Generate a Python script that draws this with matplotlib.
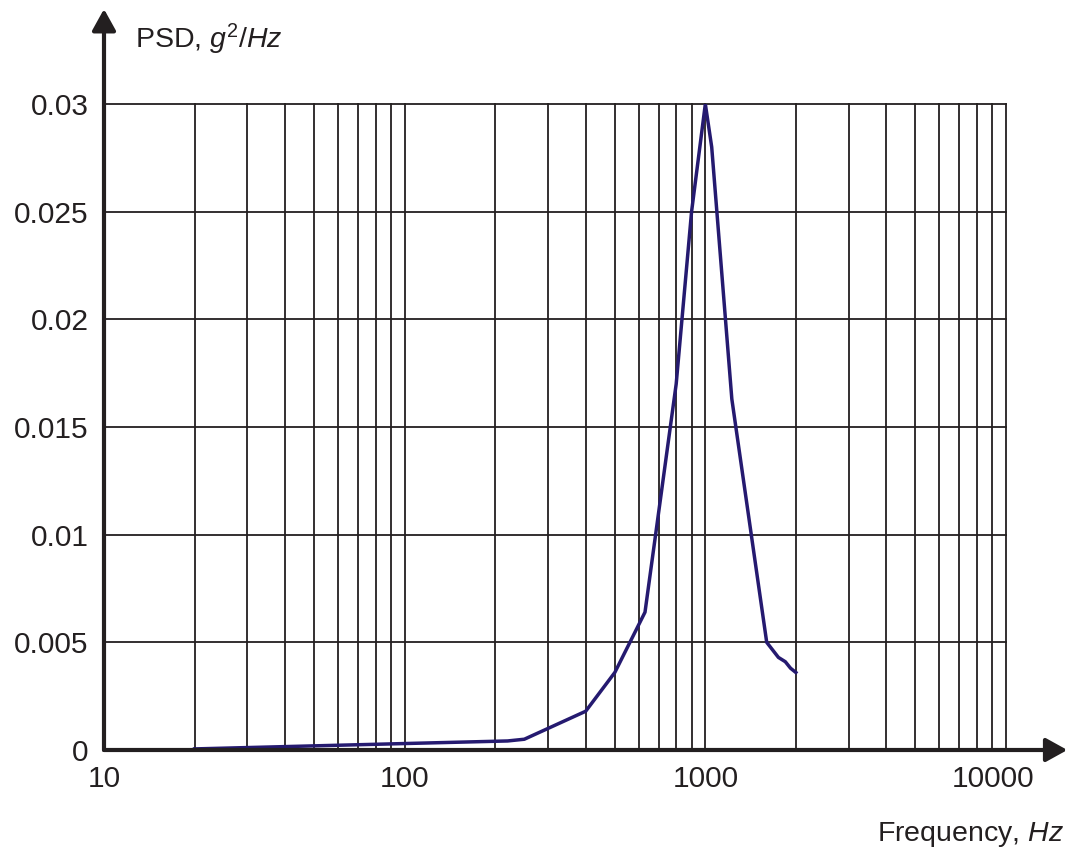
import numpy as np
import matplotlib
matplotlib.use('Agg')
from matplotlib import pyplot as plt
from matplotlib.transforms import ScaledTranslation

plt.rcParams['font.family'] = ['Liberation Sans', 'DejaVu Sans']
plt.rcParams['mathtext.fontset'] = 'custom'
plt.rcParams['mathtext.rm'] = 'Liberation Sans'
plt.rcParams['mathtext.it'] = 'Liberation Sans:italic'

# PSD curve
freq = [20, 100, 220, 250, 400, 500, 630, 800, 900, 1000, 1050, 1225, 1600, 1750, 1845, 1920, 2000]
psd = [0.00005, 0.0003, 0.00042, 0.0005, 0.0018, 0.0036, 0.0064, 0.017, 0.025, 0.03,
       0.028, 0.0163, 0.005, 0.0043, 0.0041, 0.0038, 0.0036]

x_ticks = [10, 100, 1000, 10000]
x_ticklabels = ['10', '100', '1000', '10000']
y_ticks = [0, 0.005, 0.01, 0.015, 0.02, 0.025, 0.03]
y_ticklabels = ['0', '0.005', '0.01', '0.015', '0.02', '0.025', '0.03']

ink = '#231f20'
curve = '#251a70'

fig = plt.figure(figsize=(10.73, 8.52), dpi=100)
ax = fig.add_axes([104 / 1073, 102 / 852, 902 / 1073, 646 / 852])

ax.set_xscale('log')
ax.set_xlim(10, 10000)
ax.set_ylim(0, 0.03)

# grid
minor = [m * d for d in [10, 100, 1000] for m in range(2, 10)]
for f in minor + [100, 1000, 10000]:
    ax.axvline(f, color=ink, lw=1.3, zorder=1, clip_on=False)
for v in y_ticks[1:]:
    ax.axhline(v, color=ink, lw=1.3, zorder=1, clip_on=False)

ax.plot(freq, psd, color=curve, lw=2.5, zorder=3, solid_joinstyle='round')

for s in ax.spines.values():
    s.set_visible(False)

ax.set_xticks(x_ticks)
ax.set_xticklabels(x_ticklabels)
ax.xaxis.set_minor_locator(plt.NullLocator())
ax.set_yticks(y_ticks)
ax.set_yticklabels(y_ticklabels)
ax.tick_params(axis='both', length=0, labelsize=21.5, labelcolor=ink)
ax.tick_params(axis='x', pad=11)
ax.tick_params(axis='y', pad=11)
lbl = ax.get_xticklabels()[-1]
lbl.set_transform(lbl.get_transform() + ScaledTranslation(-0.13, 0, fig.dpi_scale_trans))

# axes with arrows
arrow = dict(arrowstyle='-|>,head_length=0.65,head_width=0.36', mutation_scale=20,
             color=ink, lw=3, shrinkA=0, shrinkB=0)
ax.annotate('', xy=(1.068, 0), xytext=(0, 0), xycoords='axes fraction',
            arrowprops=arrow, zorder=5, annotation_clip=False)
ax.annotate('', xy=(0, 1.147), xytext=(0, 0), xycoords='axes fraction',
            arrowprops=arrow, zorder=5, annotation_clip=False)

fig.text(135 / 1073, 1 - 48 / 852, r'PSD, $g^2/Hz$', fontsize=20.5, color=ink,
         ha='left', va='baseline')
fig.text(1064 / 1073, 1 - 841 / 852, r'Frequency, $Hz$', fontsize=20.5, color=ink,
         ha='right', va='baseline')

fig.savefig('out.png', dpi=100)
